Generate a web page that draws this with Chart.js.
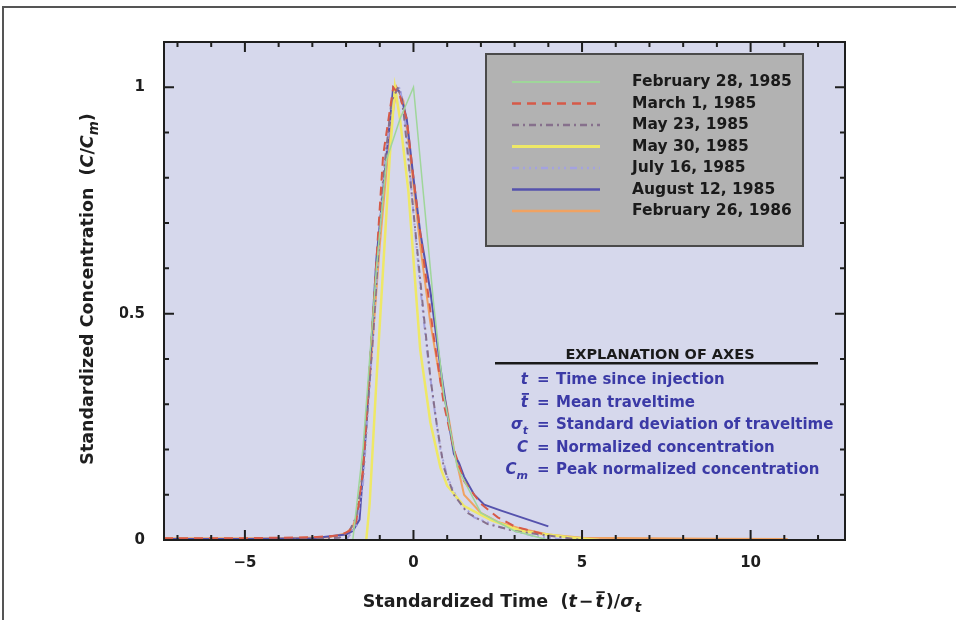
<!DOCTYPE html>
<html>
<head>
<meta charset="utf-8">
<title>Standardized concentration curves</title>
<script src="https://cdn.jsdelivr.net/npm/chart.js@4.4.0/dist/chart.umd.min.js"></script>
<style>
  body { margin: 0; background: #fff; }
  canvas { display: block; }
</style>
</head>
<body>
<canvas id="tracer-curves" width="956" height="620"></canvas>
<script>
"use strict";

// one run per injection date
var runLabels = [
    'February 28, 1985',
    'March 1, 1985',
    'May 23, 1985',
    'May 30, 1985',
    'July 16, 1985',
    'August 12, 1985',
    'February 26, 1986'
];

// standardized time (x) and C/Cm (y) for each run
var feb28X = [-1.8, -1.5, -1.1, -0.8, -0.4, 0.0, 0.3, 0.6, 0.9, 1.3, 2.0, 3.0, 4.0];
var feb28Y = [0, 0.2, 0.6, 0.84, 0.93, 1.0, 0.76, 0.52, 0.32, 0.16, 0.06, 0.02, 0];

var mar01X = [-7.4, -5.0, -3.0, -2.2, -1.9, -1.7, -1.5, -1.2, -0.9, -0.6, -0.4, -0.2, 0.0, 0.3, 0.6, 0.9, 1.2, 1.5, 2.0, 2.5, 3.0, 3.5, 4.0];
var mar01Y = [0.004, 0.004, 0.006, 0.01, 0.02, 0.04, 0.15, 0.5, 0.85, 1.0, 0.98, 0.93, 0.8, 0.62, 0.45, 0.3, 0.2, 0.13, 0.08, 0.05, 0.03, 0.02, 0.01];

var may23X = [-7.4, -4.0, -2.2, -1.9, -1.7, -1.5, -1.2, -0.9, -0.65, -0.45, -0.3, -0.1, 0.1, 0.3, 0.5, 0.7, 0.9, 1.2, 1.6, 2.2, 3.0, 4.0, 5.0];
var may23Y = [0, 0, 0.005, 0.02, 0.05, 0.15, 0.45, 0.8, 0.97, 1.0, 0.95, 0.8, 0.65, 0.5, 0.36, 0.25, 0.16, 0.1, 0.06, 0.035, 0.02, 0.01, 0];

var may30X = [-1.4, -1.3, -1.1, -0.9, -0.7, -0.55, -0.4, -0.15, 0.2, 0.5, 0.8, 1.0, 1.5, 2.3, 3.2, 4.6, 5.5];
var may30Y = [0, 0.08, 0.35, 0.6, 0.85, 1.0, 0.93, 0.77, 0.42, 0.26, 0.16, 0.12, 0.075, 0.044, 0.02, 0.006, 0];

var jul16X = [-2.0, -1.7, -1.5, -1.2, -0.9, -0.6, -0.4, -0.2, 0.0, 0.2, 0.4, 0.6, 0.8, 1.0, 1.3, 1.8, 2.5, 3.5, 4.5];
var jul16Y = [0, 0.03, 0.12, 0.45, 0.8, 0.98, 1.0, 0.9, 0.72, 0.56, 0.42, 0.3, 0.2, 0.14, 0.09, 0.05, 0.03, 0.01, 0];

var aug12X = [-7.4, -5.0, -3.0, -2.0, -1.8, -1.6, -1.4, -1.1, -0.8, -0.6, -0.4, -0.2, 0.0, 0.2, 0.5, 0.8, 1.0, 1.2, 1.35, 1.5, 1.8, 2.1, 2.6, 3.2, 4.0];
var aug12Y = [0.002, 0.002, 0.004, 0.012, 0.02, 0.045, 0.25, 0.62, 0.85, 1.0, 0.99, 0.93, 0.8, 0.68, 0.55, 0.38, 0.28, 0.19, 0.17, 0.14, 0.1, 0.078, 0.065, 0.05, 0.03];

var feb26X = [-7.4, -4.0, -2.5, -2.0, -1.8, -1.6, -1.3, -1.0, -0.7, -0.5, -0.3, -0.1, 0.2, 0.5, 0.8, 1.0, 1.2, 1.5, 2.0, 2.5, 3.2, 4.0, 5.0, 7.0, 9.0, 11.1];
var feb26Y = [0.004, 0.004, 0.006, 0.015, 0.03, 0.07, 0.35, 0.65, 0.9, 1.0, 0.97, 0.85, 0.65, 0.48, 0.35, 0.29, 0.2, 0.1, 0.06, 0.04, 0.025, 0.012, 0.005, 0.004, 0.003, 0.002];

var xTickValues = [-5, 0, 5, 10];
var yTickValues = [0, 0.5, 1];

// symbol, subscript, overbar, meaning
var explanationRows = [
    ['t', '', false, 'Time since injection'],
    ['t', '', true, 'Mean traveltime'],
    ['\u03c3', 't', false, 'Standard deviation of traveltime'],
    ['C', '', false, 'Normalized concentration'],
    ['C', 'm', false, 'Peak normalized concentration']
];

var FONT = "'DejaVu Sans', sans-serif";

function toPoints (xs, ys) {
    var pts = [];
    for (var i = 0; i < xs.length; i++) {
        pts.push({ x: xs[i], y: ys[i] });
    }
    return pts;
}

function series (label, xs, ys, color, width, dash) {
    return {
        label: label,
        data: toPoints(xs, ys),
        borderColor: color,
        backgroundColor: color,
        borderWidth: width,
        borderDash: dash,
        pointRadius: 0,
        tension: 0,
        fill: false
    };
}

var datasets = [
    series(runLabels[0], feb28X, feb28Y, '#9fd69a', 1.5, []),
    series(runLabels[1], mar01X, mar01Y, '#d65a48', 2, [9, 6]),
    series(runLabels[2], may23X, may23Y, '#86708c', 2, [7, 4, 2, 4]),
    series(runLabels[3], may30X, may30Y, '#eee866', 2.5, []),
    series(runLabels[4], jul16X, jul16Y, '#a4a2e0', 2, [7, 4, 2, 4, 2, 4, 2, 4]),
    series(runLabels[5], aug12X, aug12Y, '#5552ad', 2, []),
    series(runLabels[6], feb26X, feb26Y, '#f0a262', 2, [])
];

// text pieces; sub pieces sit below the line, bar draws a line over the glyph
function textWidth (ctx, parts, size) {
    var w = 0;
    parts.forEach(function (p) {
        ctx.font = (p.italic ? 'italic ' : '') + 'bold ' + (p.sub ? size - 4 : size) + 'px ' + FONT;
        w += ctx.measureText(p.t).width + (p.gap || 0);
    });
    return w;
}

function drawParts (ctx, parts, x, y, size) {
    parts.forEach(function (p) {
        var s = p.sub ? size - 4 : size;
        ctx.font = (p.italic ? 'italic ' : '') + 'bold ' + s + 'px ' + FONT;
        var w = ctx.measureText(p.t).width;
        ctx.fillText(p.t, x, p.sub ? y + 5 : y);
        if (p.bar) {
            ctx.fillRect(x + 1, y - size * 0.9, w, 1.8);
        }
        x += w + (p.gap || 0);
    });
    return x;
}

var framePlugin = {
    id: 'frame',
    beforeDraw: function (chart) {
        var ctx = chart.ctx, a = chart.chartArea;
        ctx.save();
        ctx.fillStyle = '#ffffff';
        ctx.fillRect(0, 0, chart.width, chart.height);
        // page border
        ctx.strokeStyle = '#555555';
        ctx.lineWidth = 2;
        ctx.beginPath();
        ctx.moveTo(3, chart.height);
        ctx.lineTo(3, 7);
        ctx.lineTo(chart.width, 7);
        ctx.stroke();
        ctx.fillStyle = '#d6d8ec';
        ctx.fillRect(a.left, a.top, a.right - a.left, a.bottom - a.top);
        ctx.restore();
    },
    afterDraw: function (chart) {
        var ctx = chart.ctx, a = chart.chartArea;
        var sx = chart.scales.x, sy = chart.scales.y;
        ctx.save();
        ctx.strokeStyle = '#1e1e1e';
        ctx.lineWidth = 2;
        ctx.strokeRect(a.left, a.top, a.right - a.left, a.bottom - a.top);

        // inward ticks on all four sides
        ctx.beginPath();
        for (var v = -7; v <= 12; v++) {
            var px = sx.getPixelForValue(v);
            var len = (v % 5 === 0) ? 10 : 5;
            ctx.moveTo(px, a.bottom); ctx.lineTo(px, a.bottom - len);
            ctx.moveTo(px, a.top); ctx.lineTo(px, a.top + len);
        }
        for (var i = 1; i <= 10; i++) {
            var py = sy.getPixelForValue(i / 10);
            var ylen = (i % 5 === 0) ? 10 : 5;
            ctx.moveTo(a.left, py); ctx.lineTo(a.left + ylen, py);
            ctx.moveTo(a.right, py); ctx.lineTo(a.right - ylen, py);
        }
        ctx.stroke();

        // legend box
        ctx.fillStyle = '#b2b2b2';
        ctx.fillRect(486, 54, 317, 192);
        ctx.strokeStyle = '#4a4a4a';
        ctx.lineWidth = 2;
        ctx.strokeRect(486, 54, 317, 192);
        ctx.textBaseline = 'middle';
        ctx.textAlign = 'left';
        chart.data.datasets.forEach(function (ds, k) {
            var y = 82 + k * 21.5;
            ctx.strokeStyle = ds.borderColor;
            ctx.lineWidth = ds.borderWidth + 0.5;
            ctx.setLineDash(ds.borderDash);
            ctx.beginPath();
            ctx.moveTo(512, y);
            ctx.lineTo(600, y);
            ctx.stroke();
            ctx.setLineDash([]);
            ctx.fillStyle = '#1a1a1a';
            ctx.font = 'bold 15.5px ' + FONT;
            ctx.fillText(ds.label, 632, y);
        });

        // explanation of axes
        ctx.fillStyle = '#1a1a1a';
        ctx.font = 'bold 14.5px ' + FONT;
        ctx.textAlign = 'center';
        ctx.textBaseline = 'alphabetic';
        ctx.fillText('EXPLANATION OF AXES', 660, 359);
        ctx.fillRect(495, 362, 323, 2.5);
        ctx.textAlign = 'left';
        ctx.fillStyle = '#3b3aa6';
        explanationRows.forEach(function (row, k) {
            var y = 384 + k * 22.5;
            var sym = [{ t: row[0], italic: true, bar: row[2] }];
            if (row[1]) sym.push({ t: row[1], italic: true, sub: true });
            var w = textWidth(ctx, sym, 15);
            drawParts(ctx, sym, 528 - w, y, 15);
            ctx.font = 'bold 15px ' + FONT;
            ctx.fillText('=', 537, y);
            ctx.fillText(row[3], 556, y);
        });

        // axis titles
        ctx.fillStyle = '#1e1e1e';
        var xTitle = [
            { t: 'Standardized Time  (' },
            { t: 't', italic: true, gap: 2 },
            { t: '\u2212', gap: 2 },
            { t: 't', italic: true, bar: true, gap: 2 },
            { t: ')/' },
            { t: '\u03c3', italic: true, gap: 1 },
            { t: 't', italic: true, sub: true }
        ];
        var xw = textWidth(ctx, xTitle, 17.5);
        drawParts(ctx, xTitle, 502 - xw / 2, 607, 17.5);

        var yTitle = [
            { t: 'Standardized Concentration  (' },
            { t: 'C', italic: true },
            { t: '/' },
            { t: 'C', italic: true },
            { t: 'm', italic: true, sub: true },
            { t: ')' }
        ];
        var yw = textWidth(ctx, yTitle, 17.5);
        ctx.translate(93, 289);
        ctx.rotate(-Math.PI / 2);
        drawParts(ctx, yTitle, -yw / 2, 0, 17.5);
        ctx.restore();
    }
};

var ctx = document.getElementById('tracer-curves');

var tracerChart = new Chart(ctx, {
    type: 'line',
    data: { datasets: datasets },
    plugins: [framePlugin],
    options: {
        responsive: false,
        animation: false,
        devicePixelRatio: 1,
        layout: { padding: { left: 120, right: 111, top: 42, bottom: 40 } },
        plugins: {
            legend: { display: false },
            tooltip: { enabled: false }
        },
        scales: {
            x: {
                type: 'linear',
                min: -7.4,
                max: 12.8,
                afterFit: function (s) { s.height = 40; },
                afterBuildTicks: function (s) {
                    s.ticks = xTickValues.map(function (v) { return { value: v }; });
                },
                grid: { display: false, drawTicks: false },
                border: { display: false },
                ticks: {
                    padding: 14,
                    color: '#1e1e1e',
                    font: { family: FONT, size: 15, weight: 'bold' },
                    callback: function (v) { return String(v).replace('-', '\u2212'); }
                }
            },
            y: {
                type: 'linear',
                min: 0,
                max: 1.1,
                afterFit: function (s) { s.width = 44; },
                afterBuildTicks: function (s) {
                    s.ticks = yTickValues.map(function (v) { return { value: v }; });
                },
                grid: { display: false, drawTicks: false },
                border: { display: false },
                ticks: {
                    padding: 19,
                    color: '#1e1e1e',
                    font: { family: FONT, size: 15, weight: 'bold' },
                    callback: function (v) { return String(v); }
                }
            }
        }
    }
});
</script>
</body>
</html>
